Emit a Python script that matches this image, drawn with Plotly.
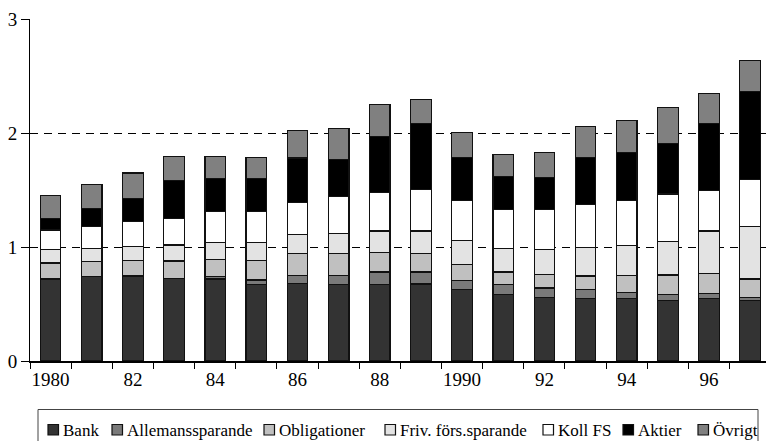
import plotly.graph_objects as go

years = ["1980", "81", "82", "83", "84", "85", "86", "87", "88", "89",
         "1990", "91", "92", "93", "94", "95", "96", "97"]
tick_labels = ["1980", "", "82", "", "84", "", "86", "", "88", "",
               "1990", "", "92", "", "94", "", "96", ""]

bank = [0.72, 0.74, 0.745, 0.724, 0.72, 0.67, 0.68, 0.67, 0.67, 0.675,
        0.625, 0.58, 0.56, 0.545, 0.545, 0.53, 0.55, 0.53]
allemans = [0.0, 0.0, 0.0, 0.0, 0.018, 0.04, 0.07, 0.08, 0.11, 0.105,
            0.08, 0.09, 0.08, 0.08, 0.055, 0.05, 0.045, 0.03]
obligationer = [0.14, 0.13, 0.14, 0.154, 0.155, 0.17, 0.19, 0.19, 0.17, 0.16,
                0.14, 0.11, 0.12, 0.12, 0.15, 0.175, 0.175, 0.16]
friv = [0.12, 0.12, 0.12, 0.14, 0.15, 0.16, 0.17, 0.18, 0.19, 0.20,
        0.21, 0.21, 0.22, 0.25, 0.265, 0.29, 0.37, 0.46]
koll_fs = [0.17, 0.19, 0.22, 0.235, 0.27, 0.27, 0.28, 0.32, 0.34, 0.365,
           0.35, 0.34, 0.35, 0.38, 0.395, 0.42, 0.355, 0.415]
aktier = [0.10, 0.155, 0.20, 0.33, 0.285, 0.29, 0.39, 0.33, 0.49, 0.58,
          0.38, 0.29, 0.28, 0.41, 0.42, 0.445, 0.59, 0.77]
ovrigt = [0.20, 0.21, 0.225, 0.21, 0.195, 0.185, 0.24, 0.27, 0.28, 0.21,
          0.22, 0.19, 0.22, 0.27, 0.28, 0.315, 0.26, 0.27]

series_names = ["Bank", "Allemanssparande", "Obligationer", "Friv. förs.sparande",
                "Koll FS", "Aktier", "Övrigt"]
series_values = [bank, allemans, obligationer, friv, koll_fs, aktier, ovrigt]
series_colors = ["#333333", "#7a7a7a", "#c0c0c0", "#e3e3e3", "#ffffff", "#000000", "#808080"]

FONT = "Liberation Serif"
W, H = 766, 441
ML, MR, MT, MB = 30, 0, 19, 80
PW, PH = W - ML - MR, H - MT - MB


def px_x(px):
    return (px - ML) / PW


def px_y(py):
    return (H - MB - py) / PH


fig = go.Figure()
for name, vals, col in zip(series_names, series_values, series_colors):
    fig.add_trace(go.Bar(
        x=years, y=vals, name=name,
        marker=dict(color=col, line=dict(color="#111111", width=1.2)),
        showlegend=False, hoverinfo="skip",
    ))

# Manual single-row legend (box, swatches, labels)
shapes = [dict(type="rect", xref="paper", yref="paper",
               x0=px_x(38), x1=px_x(758), y0=px_y(447), y1=px_y(409.5),
               line=dict(color="#444444", width=1), fillcolor="rgba(0,0,0,0)")]
annotations = []
swatch_left = [48, 112, 264, 385, 543, 623, 698]
for name, col, sx in zip(series_names, series_colors, swatch_left):
    shapes.append(dict(type="rect", xref="paper", yref="paper",
                       x0=px_x(sx), x1=px_x(sx + 10.5), y0=px_y(435), y1=px_y(424.5),
                       line=dict(color="#111111", width=1.2), fillcolor=col))
    annotations.append(dict(xref="paper", yref="paper", x=px_x(sx + 13), y=px_y(430),
                            xanchor="left", yanchor="middle", showarrow=False,
                            text=name, font=dict(family=FONT, size=17, color="black")))

fig.update_layout(
    barmode="stack",
    bargap=0.5,
    width=W, height=H,
    margin=dict(l=ML, r=MR, t=MT, b=MB),
    paper_bgcolor="white", plot_bgcolor="white",
    font=dict(family=FONT, size=19, color="black"),
    showlegend=False,
    shapes=shapes,
    annotations=annotations,
)

fig.update_xaxes(
    type="category",
    tickmode="array", tickvals=years, ticktext=tick_labels,
    tickson="boundaries", tickangle=0,
    ticks="outside", ticklen=6, tickcolor="black", tickwidth=1,
    ticklabelstandoff=1,
    showline=True, linecolor="black", linewidth=1.5,
    showgrid=False,
    range=[-0.5, 17.385],
    tickfont=dict(family=FONT, size=19),
)
fig.update_yaxes(
    range=[0, 3],
    tickvals=[0, 1, 2, 3],
    ticks="outside", ticklen=8, tickcolor="black",
    showline=True, linecolor="black", linewidth=1,
    showgrid=True, gridcolor="black", gridwidth=1, griddash="8px,6px",
    zeroline=False,
    tickfont=dict(family=FONT, size=19),
)

fig.write_html(
    "out.html",
    config={"displayModeBar": False, "staticPlot": True},
    post_script="document.body.style.margin='0';document.body.style.overflow='hidden';",
)
